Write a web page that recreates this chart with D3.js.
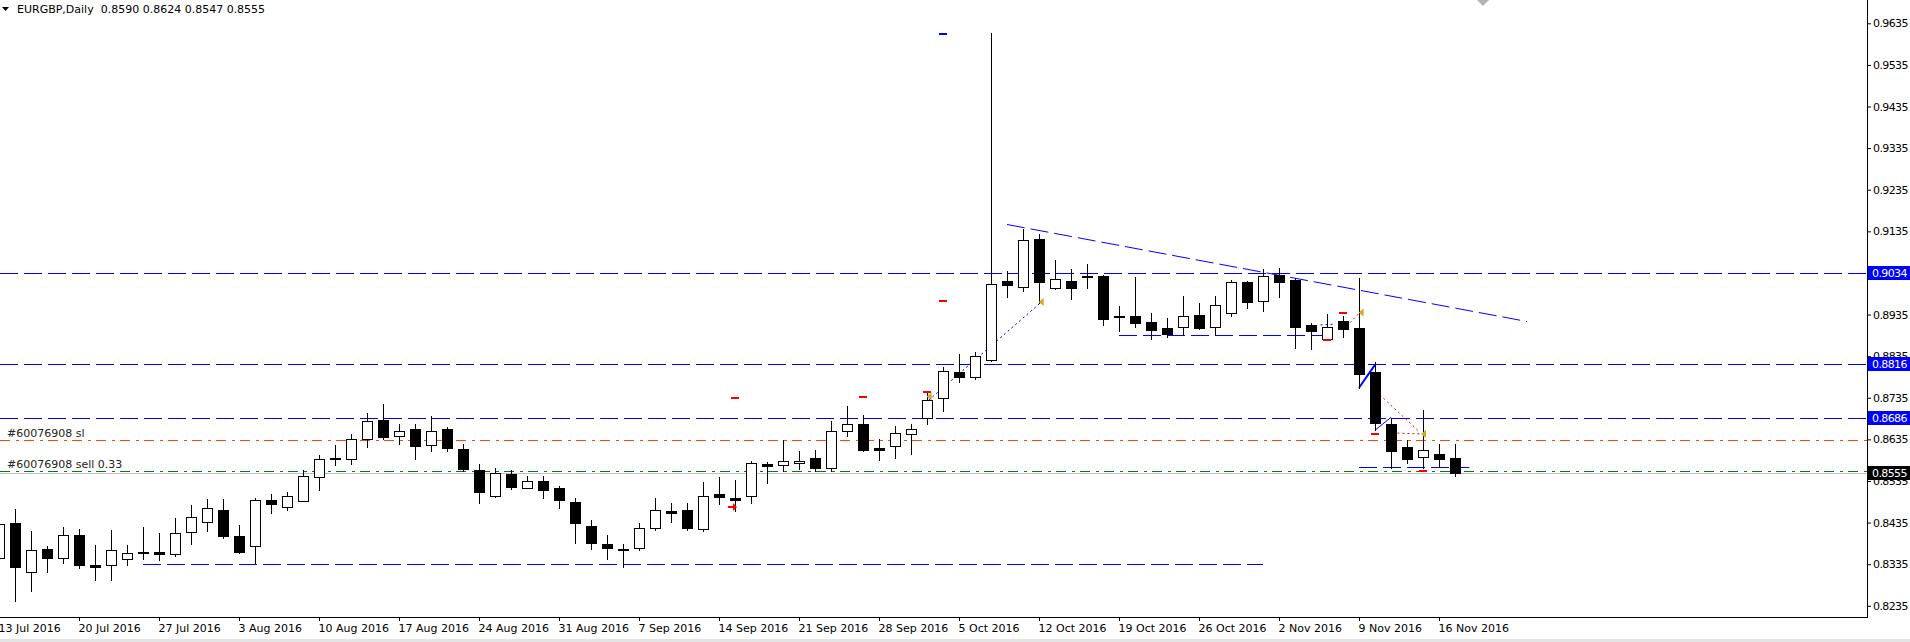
<!DOCTYPE html>
<html>
<head>
<meta charset="utf-8">
<script src="https://cdn.jsdelivr.net/npm/d3@7"></script>
<style>
body { margin: 0; background: #fff; }
svg { display: block; font-family: 'DejaVu Sans', sans-serif; font-size: 11px; }
</style>
</head>
<body>
<div class="chart"></div>
<script>
// EURGBP daily, 13 Jul 2016 .. 17 Nov 2016
let days = [
	'13 Jul','14 Jul','15 Jul','18 Jul','19 Jul','20 Jul','21 Jul','22 Jul','25 Jul','26 Jul','27 Jul','28 Jul','29 Jul',
	'1 Aug','2 Aug','3 Aug','4 Aug','5 Aug','8 Aug','9 Aug','10 Aug','11 Aug','12 Aug','15 Aug','16 Aug','17 Aug','18 Aug','19 Aug',
	'22 Aug','23 Aug','24 Aug','25 Aug','26 Aug','29 Aug','30 Aug','31 Aug',
	'1 Sep','2 Sep','5 Sep','6 Sep','7 Sep','8 Sep','9 Sep','12 Sep','13 Sep','14 Sep','15 Sep','16 Sep','19 Sep','20 Sep','21 Sep',
	'22 Sep','23 Sep','26 Sep','27 Sep','28 Sep','29 Sep','30 Sep',
	'3 Oct','4 Oct','5 Oct','6 Oct','7 Oct','10 Oct','11 Oct','12 Oct','13 Oct','14 Oct','17 Oct','18 Oct','19 Oct','20 Oct','21 Oct',
	'24 Oct','25 Oct','26 Oct','27 Oct','28 Oct','31 Oct',
	'1 Nov','2 Nov','3 Nov','4 Nov','7 Nov','8 Nov','9 Nov','10 Nov','11 Nov','14 Nov','15 Nov','16 Nov','17 Nov'
];

let open = [
	0.8349,0.8435,0.8316,0.8371,0.8351,0.8404,0.8333,0.8332,0.8348,0.8365,0.8364,0.8360,0.8412,
	0.8437,0.8465,0.8402,0.8379,0.8489,0.8473,0.8488,0.8545,0.8591,0.8588,0.8637,0.8681,0.8644,0.8661,0.8622,
	0.8661,0.8613,0.8562,0.8500,0.8551,0.8519,0.8536,0.8517,
	0.8485,0.8426,0.8383,0.8371,0.8373,0.8423,0.8464,0.8466,0.8420,0.8503,0.8495,0.8500,0.8575,0.8574,0.8578,
	0.8590,0.8566,0.8656,0.8673,0.8614,0.8620,0.8649,
	0.8687,0.8735,0.8796,0.8785,0.8825,0.9016,0.9002,0.9116,0.9000,0.9016,0.9028,0.9028,0.8931,0.8931,0.8917,
	0.8903,0.8906,0.8934,0.8906,0.8938,0.9014,
	0.8967,0.9031,0.9018,0.8910,0.8877,0.8919,0.8903,0.8797,0.8672,0.8617,0.8592,0.8601,0.8590
];
let high = [
	0.8445,0.8467,0.8414,0.8378,0.8424,0.8420,0.8381,0.8417,0.8381,0.8424,0.8409,0.8447,0.8477,
	0.8491,0.8491,0.8430,0.8495,0.8503,0.8509,0.8562,0.8597,0.8621,0.8649,0.8699,0.8721,0.8671,0.8671,0.8691,
	0.8664,0.8625,0.8577,0.8566,0.8562,0.8548,0.8548,0.8524,
	0.8495,0.8442,0.8405,0.8383,0.8434,0.8493,0.8483,0.8481,0.8532,0.8544,0.8537,0.8582,0.8581,0.8633,0.8606,
	0.8609,0.8679,0.8715,0.8693,0.8637,0.8667,0.8671,
	0.8747,0.8808,0.8841,0.8846,0.9612,0.9040,0.9141,0.9128,0.9066,0.9044,0.9056,0.9029,0.8955,0.9025,0.8939,
	0.8927,0.8979,0.8962,0.8979,0.9017,0.9015,
	0.9044,0.9047,0.9023,0.8915,0.8936,0.8931,0.9022,0.8822,0.8687,0.8633,0.8705,0.8625,0.8624
];
let low = [
	0.8330,0.8247,0.8270,0.8316,0.8338,0.8327,0.8296,0.8296,0.8333,0.8347,0.8345,0.8355,0.8384,
	0.8415,0.8399,0.8361,0.8339,0.8457,0.8465,0.8486,0.8513,0.8573,0.8577,0.8617,0.8635,0.8625,0.8588,0.8607,
	0.8607,0.8559,0.8482,0.8497,0.8516,0.8518,0.8494,0.8470,
	0.8385,0.8372,0.8348,0.8328,0.8370,0.8417,0.8436,0.8417,0.8415,0.8480,0.8463,0.8482,0.8530,0.8559,0.8563,
	0.8559,0.8559,0.8643,0.8607,0.8585,0.8590,0.8601,
	0.8673,0.8703,0.8773,0.8780,0.8823,0.8978,0.8992,0.8962,0.8996,0.8972,0.8999,0.8910,0.8895,0.8906,0.8877,
	0.8882,0.8886,0.8900,0.8886,0.8931,0.8951,
	0.8944,0.8978,0.8855,0.8852,0.8875,0.8882,0.8758,0.8657,0.8565,0.8579,0.8565,0.8569,0.8547
];
let close = [
	0.8431,0.8328,0.8370,0.8350,0.8404,0.8334,0.8328,0.8368,0.8363,0.8361,0.8360,0.8411,0.8448,
	0.8469,0.8402,0.8364,0.8489,0.8480,0.8498,0.8548,0.8587,0.8587,0.8637,0.8678,0.8641,0.8656,0.8619,0.8656,
	0.8614,0.8563,0.8508,0.8554,0.8521,0.8536,0.8514,0.8490,
	0.8434,0.8386,0.8375,0.8369,0.8422,0.8466,0.8458,0.8422,0.8500,0.8497,0.8490,0.8579,0.8571,0.8584,0.8584,
	0.8566,0.8656,0.8671,0.8610,0.8610,0.8651,0.8661,
	0.8729,0.8799,0.8785,0.8836,0.9008,0.9007,0.9113,0.9014,0.9020,0.8999,0.9026,0.8925,0.8929,0.8915,0.8898,
	0.8888,0.8931,0.8903,0.8957,0.9013,0.8966,
	0.9027,0.9014,0.8906,0.8895,0.8906,0.8901,0.8793,0.8675,0.8608,0.8588,0.8609,0.8587,0.8555
];

let dateTicks = [0,5,10,15,20,25,30,35,40,45,50,55,60,65,70,75,80,85,90];
let dateLabels = ['13 Jul 2016','20 Jul 2016','27 Jul 2016','3 Aug 2016','10 Aug 2016','17 Aug 2016','24 Aug 2016',
	'31 Aug 2016','7 Sep 2016','14 Sep 2016','21 Sep 2016','28 Sep 2016','5 Oct 2016','12 Oct 2016','19 Oct 2016',
	'26 Oct 2016','2 Nov 2016','9 Nov 2016','16 Nov 2016'];
let priceTicks = [0.9635,0.9535,0.9435,0.9335,0.9235,0.9135,0.9035,0.8935,0.8835,0.8735,0.8635,0.8535,0.8435,0.8335,0.8235];

let levels = [0.9034, 0.8816, 0.8686];   // horizontal lines, blue
let slLevel = 0.8633;
let entryLevel = 0.8560;
let bid = 0.8555;

// [from index, price, to index, price]
let trendLines = [[9, 0.8335, 79, 0.8335], [70, 0.8887, 82.7, 0.8887], [85, 0.8568, 91.9, 0.8568], [63, 0.9152, 95.5, 0.8920]];
let buyLines = [[58.1, 0.8729, 65, 0.8960], [82.6, 0.8910, 83.5, 0.8912]];
let sellLines = [[84, 0.8898, 85.1, 0.8942], [86.3, 0.8742, 88.7, 0.8656], [87.4, 0.8650, 88.9, 0.8648]];
let swingLines = [[85, 0.8759, 86, 0.8814], [86, 0.8657, 87, 0.8688]];
let closeArrows = [[58.1, 0.8738], [65.1, 0.8965], [85.1, 0.8940], [89, 0.8648]];
let redMarks = [[46, 0.8734], [54, 0.8736], [58, 0.8748], [59, 0.8967], [83, 0.8873], [84, 0.8938], [86, 0.8649], [89, 0.8560]];
let blueMarks = [[59, 0.9609]];
let sellArrows = [[45.8, 0.8472]];

let width = 1910, height = 642;
let plotW = 1867, plotH = 617;

let svg = d3.select('.chart')
	.append('svg')
	.attr('width', width)
	.attr('height', height);

svg.append('rect').attr('width', width).attr('height', height).style('fill', '#fff');

let x = d3.scaleLinear()
	.domain([0, days.length - 1])
	.range([-1, 1455]);

let y = d3.scaleLinear()
	.domain([0.8235, 0.9635])
	.range([605.8, 23.3]);

let px = v => Math.round(x(v)) + 0.5;
let py = v => Math.round(y(v)) + 0.5;

let plot = svg.append('g');

// full width levels
plot.selectAll('.level')
	.data(levels)
	.enter().append('line')
	.attr('x1', 0).attr('x2', plotW)
	.attr('y1', d => py(d)).attr('y2', d => py(d))
	.style('stroke', '#0000ff')
	.style('stroke-dasharray', '18,6');

plot.append('line')
	.attr('x1', 0).attr('x2', plotW)
	.attr('y1', py(slLevel)).attr('y2', py(slLevel))
	.style('stroke', '#ff4500')
	.style('stroke-dasharray', '10,6,3,5');

plot.append('line')
	.attr('x1', 0).attr('x2', plotW)
	.attr('y1', py(entryLevel)).attr('y2', py(entryLevel))
	.style('stroke', '#008000')
	.style('stroke-dasharray', '10,6,3,5');

plot.append('line')
	.attr('x1', 0).attr('x2', plotW)
	.attr('y1', py(bid)).attr('y2', py(bid))
	.style('stroke', '#c0c0c0');

plot.append('text').attr('x', 7).attr('y', py(slLevel) - 4).text('#60076908 sl').style('fill', '#222');
plot.append('text').attr('x', 7).attr('y', py(entryLevel) - 4).text('#60076908 sell 0.33').style('fill', '#222');

// trend lines
plot.selectAll('.trend')
	.data(trendLines)
	.enter().append('line')
	.attr('x1', d => x(d[0])).attr('y1', d => py(d[1]))
	.attr('x2', d => x(d[2])).attr('y2', d => py(d[3]))
	.style('stroke', '#0000ff')
	.style('stroke-dasharray', '18,6');

plot.selectAll('.buy')
	.data(buyLines)
	.enter().append('line')
	.attr('x1', d => x(d[0])).attr('y1', d => y(d[1]))
	.attr('x2', d => x(d[2])).attr('y2', d => y(d[3]))
	.style('stroke', '#0000ff')
	.style('stroke-dasharray', '2,3');

plot.selectAll('.sell')
	.data(sellLines)
	.enter().append('line')
	.attr('x1', d => x(d[0])).attr('y1', d => y(d[1]))
	.attr('x2', d => x(d[2])).attr('y2', d => y(d[3]))
	.style('stroke', '#ff0000')
	.style('stroke-dasharray', '2,3');

plot.selectAll('.swing')
	.data(swingLines)
	.enter().append('line')
	.attr('x1', d => x(d[0])).attr('y1', d => y(d[1]))
	.attr('x2', d => x(d[2])).attr('y2', d => y(d[3]))
	.style('stroke', '#0000ff')
	.style('stroke-width', (d, i) => i == 0 ? 2 : 1);

// candles
let candles = plot.selectAll('.candle')
	.data(days)
	.enter().append('g');

candles.append('line')
	.attr('x1', (d, i) => px(i)).attr('x2', (d, i) => px(i))
	.attr('y1', (d, i) => Math.round(y(high[i])))
	.attr('y2', (d, i) => Math.round(y(low[i])) + 1)
	.style('stroke', '#000');

candles.append('rect')
	.attr('x', (d, i) => px(i) - 5)
	.attr('width', 10)
	.attr('y', (d, i) => py(Math.max(open[i], close[i])))
	.attr('height', (d, i) => Math.max(1, Math.round(y(Math.min(open[i], close[i]))) - Math.round(y(Math.max(open[i], close[i])))))
	.style('fill', (d, i) => close[i] >= open[i] ? '#fff' : '#000')
	.style('stroke', '#000');

// trade markers
plot.selectAll('.redmark')
	.data(redMarks)
	.enter().append('line')
	.attr('x1', d => x(d[0]) - 4).attr('x2', d => x(d[0]) + 4)
	.attr('y1', d => Math.round(y(d[1]))).attr('y2', d => Math.round(y(d[1])))
	.style('stroke', '#ff0000').style('stroke-width', 2);

plot.selectAll('.bluemark')
	.data(blueMarks)
	.enter().append('line')
	.attr('x1', d => x(d[0]) - 4).attr('x2', d => x(d[0]) + 4)
	.attr('y1', d => Math.round(y(d[1]))).attr('y2', d => Math.round(y(d[1])))
	.style('stroke', '#0000ff').style('stroke-width', 2);

plot.selectAll('.closearrow')
	.data(closeArrows)
	.enter().append('path')
	.attr('d', d => {
		let cx = x(d[0]), cy = y(d[1]);
		return 'M' + (cx - 2) + ',' + cy + 'L' + (cx + 3) + ',' + (cy - 4) + 'L' + (cx + 3) + ',' + (cy + 4) + 'Z';
	})
	.style('fill', '#daa520');

plot.selectAll('.sellarrow')
	.data(sellArrows)
	.enter().append('path')
	.attr('d', d => {
		let cx = Math.round(x(d[0])), cy = Math.round(y(d[1]));
		return 'M' + (cx - 4) + ',' + (cy - 1) + 'h5v-3l4,4l-4,4v-3h-5z';
	})
	.style('fill', '#ff0000');

// shift marker and header
svg.append('path').attr('d', 'M1477,0L1489,0L1483,6Z').style('fill', '#b4b4b4');
svg.append('path').attr('d', 'M2,7L9,7L5.5,11Z').style('fill', '#000');
svg.append('text').attr('x', 17).attr('y', 13).style('fill', '#000')
	.text('EURGBP,Daily  ' + [open, high, low, close].map(a => a[a.length - 1].toFixed(4)).join(' '))
	.attr('xml:space', 'preserve');

// axes
let yAxis = d3.axisRight(y)
	.tickValues(priceTicks)
	.tickSize(4)
	.tickPadding(2)
	.tickFormat(d3.format('.4f'));

let gy = svg.append('g')
	.attr('transform', 'translate(' + plotW + ', 0)')
	.call(yAxis);
gy.select('.domain').remove();
gy.selectAll('text')
	.style('font-family', "'DejaVu Sans', sans-serif").style('font-size', '11px')
	.style('letter-spacing', '-0.6px').style('fill', '#000');

let xAxis = d3.axisBottom(x)
	.tickValues(dateTicks)
	.tickSize(4)
	.tickPadding(3)
	.tickFormat((d, i) => dateLabels[i]);

let gx = svg.append('g')
	.attr('transform', 'translate(0, ' + plotH + ')')
	.call(xAxis);
gx.select('.domain').remove();
gx.selectAll('text')
	.style('text-anchor', 'start')
	.attr('dx', '-1')
	.style('font-family', "'DejaVu Sans', sans-serif").style('font-size', '11px').style('fill', '#000');

// frame
svg.append('line').attr('x1', plotW + 0.5).attr('x2', plotW + 0.5).attr('y1', 0).attr('y2', plotH + 1).style('stroke', '#000');
svg.append('line').attr('x1', 0).attr('x2', plotW + 1).attr('y1', plotH + 0.5).attr('y2', plotH + 0.5).style('stroke', '#000');
svg.append('line').attr('x1', 0).attr('x2', width).attr('y1', height - 1.5).attr('y2', height - 1.5).style('stroke', '#e4e4e4').style('stroke-width', 3);

// price labels on the axis
let tags = levels.map(d => ({p: d, c: '#0000ff'})).concat([{p: bid, c: '#000'}]);
let tag = svg.selectAll('.tag')
	.data(tags)
	.enter().append('g');
tag.append('rect')
	.attr('x', plotW + 1)
	.attr('width', width - plotW - 1)
	.attr('y', d => Math.round(y(d.p)) - 7)
	.attr('height', 14)
	.style('fill', d => d.c);
tag.append('text')
	.attr('x', plotW + 5)
	.attr('y', d => y(d.p))
	.attr('dy', '0.36em')
	.style('letter-spacing', '-0.6px')
	.style('fill', '#fff')
	.text(d => d.p.toFixed(4));
</script>
</body>
</html>
